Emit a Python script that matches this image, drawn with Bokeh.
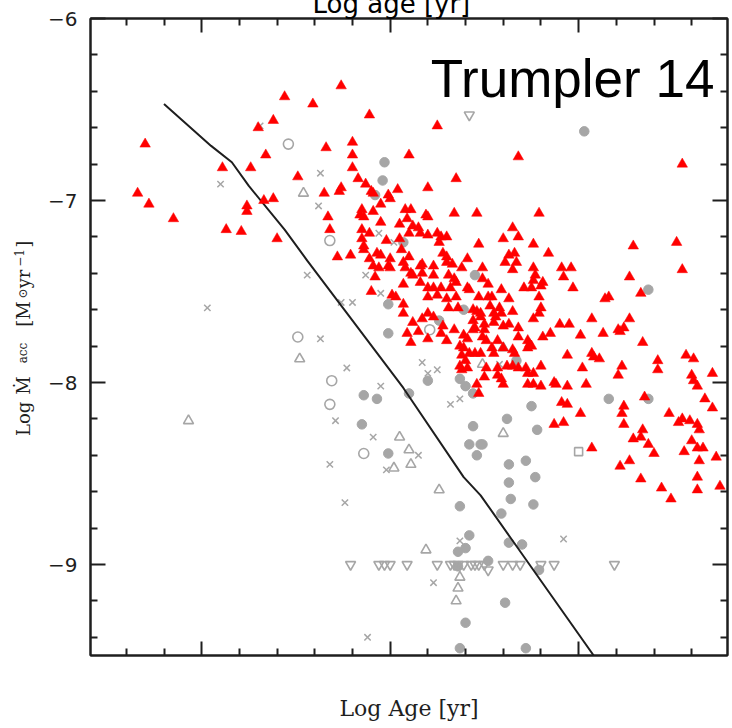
from bokeh.plotting import figure
from bokeh.models import LinearAxis, FixedTicker, Label, Range1d
from bokeh.embed import file_html
from bokeh.resources import INLINE

# ---------------- data ----------------
x_major = [5, 6, 7]
x_minor = [4.6, 4.8, 5.2, 5.4, 5.6, 5.8, 6.2, 6.4, 6.6, 6.8, 7.2, 7.4, 7.6]
y_major = [-9, -8, -7, -6]
y_minor = [-9.4, -9.2, -8.8, -8.6, -8.4, -8.2, -7.8, -7.6, -7.4, -7.2, -6.8, -6.6, -6.4, -6.2]
y_labels = {-6: "\u22126", -7: "\u22127", -8: "\u22128", -9: "\u22129"}

# accreting stars (red filled triangles)
red_upper = [(4.70, -6.69), (5.11, -6.82), (5.26, -6.82), (5.30, -6.60), (5.34, -6.75), (5.38, -6.56),
             (5.44, -6.43), (5.51, -6.87), (5.59, -6.47), (5.66, -6.71), (5.74, -6.37), (5.80, -6.68),
             (5.80, -6.75), (5.80, -6.82), (5.83, -6.88), (5.89, -6.53), (6.10, -6.75), (6.25, -6.59),
             (6.35, -6.88), (6.68, -6.76), (7.55, -6.80),
             (4.66, -6.96), (4.72, -7.02), (4.85, -7.10), (5.13, -7.16), (5.21, -7.17), (5.24, -7.03),
             (5.24, -7.06), (5.33, -7.00), (5.38, -6.99), (5.40, -7.21)]
red_core = [(5.65, -6.96), (5.74, -6.93), (5.73, -6.95), (5.87, -6.91), (5.90, -6.95), (5.91, -6.96),
            (5.99, -6.97), (6.00, -6.99), (6.04, -6.94), (6.20, -6.93), (5.95, -7.02), (5.85, -7.05),
            (5.91, -7.06), (6.08, -7.05), (6.11, -7.05), (6.19, -7.08), (6.20, -7.09), (6.34, -7.07),
            (5.67, -7.09), (5.84, -7.08), (5.86, -7.09), (6.09, -7.10), (5.95, -7.12), (6.05, -7.13),
            (6.12, -7.14), (6.15, -7.15), (5.68, -7.16), (5.85, -7.16), (5.89, -7.18), (6.10, -7.18),
            (6.16, -7.18), (6.20, -7.19), (6.25, -7.18), (6.27, -7.20), (6.30, -7.20), (5.85, -7.21),
            (5.98, -7.22), (6.05, -7.21), (6.26, -7.23), (5.86, -7.25), (5.86, -7.27), (5.72, -7.31),
            (5.79, -7.30), (5.93, -7.29), (5.95, -7.30), (6.06, -7.27), (6.10, -7.31), (6.28, -7.29),
            (6.30, -7.31), (5.89, -7.32), (6.00, -7.32), (6.07, -7.34), (6.17, -7.35), (6.30, -7.34),
            (6.33, -7.35), (5.91, -7.36), (5.94, -7.37), (5.99, -7.36), (6.00, -7.37), (6.08, -7.37),
            (6.16, -7.36), (6.23, -7.36), (5.92, -7.42), (6.12, -7.41), (6.11, -7.40), (6.17, -7.40),
            (6.23, -7.41), (6.31, -7.41), (6.34, -7.43)]
red_mid = [(6.46, -7.07), (6.79, -7.07), (6.65, -7.15), (6.60, -7.21), (6.68, -7.20), (6.47, -7.24),
           (6.76, -7.24), (6.84, -7.29), (6.41, -7.32), (6.63, -7.30), (6.66, -7.29), (6.61, -7.34),
           (6.67, -7.34), (6.65, -7.38), (6.38, -7.37), (6.49, -7.37), (6.76, -7.37), (6.91, -7.37),
           (6.96, -7.37), (6.49, -7.43), (6.77, -7.41), (6.92, -7.42), (6.52, -7.46), (6.76, -7.44),
           (6.81, -7.45), (6.80, -7.47), (6.75, -7.48), (6.71, -7.48), (6.97, -7.48), (6.41, -7.48),
           (6.42, -7.49), (6.59, -7.49), (6.47, -7.53), (6.52, -7.53), (6.54, -7.53), (6.79, -7.53),
           (6.63, -7.54), (7.14, -7.54), (7.16, -7.53), (6.53, -7.58), (6.58, -7.59), (6.80, -7.59),
           (6.44, -7.60), (6.46, -7.61), (6.48, -7.62), (6.55, -7.62), (6.59, -7.62), (6.65, -7.61),
           (6.79, -7.62), (6.48, -7.64), (6.56, -7.64), (6.76, -7.65), (7.07, -7.65), (6.44, -7.66),
           (6.50, -7.68), (6.55, -7.67), (6.60, -7.69), (6.63, -7.68), (6.90, -7.68), (6.95, -7.68),
           (6.45, -7.70), (6.68, -7.70)]
red_low = [(5.90, -7.50), (6.01, -7.52), (6.03, -7.53), (6.07, -7.57), (6.07, -7.62), (6.12, -7.67),
           (6.17, -7.65), (6.20, -7.62), (6.23, -7.64), (6.09, -7.73), (6.15, -7.72), (6.11, -7.78),
           (6.20, -7.76), (6.27, -7.73), (6.28, -7.69), (6.30, -7.77), (6.34, -7.71),
           (6.07, -7.46), (6.16, -7.45), (6.20, -7.48), (6.23, -7.48), (6.27, -7.48), (6.32, -7.48),
           (6.35, -7.45), (6.20, -7.53), (6.25, -7.52), (6.30, -7.54), (6.35, -7.53), (6.31, -7.59),
           (6.36, -7.59),
           (6.39, -7.74), (6.44, -7.71), (6.50, -7.71), (6.49, -7.75), (6.51, -7.77), (6.41, -7.76),
           (6.37, -7.80), (6.39, -7.81), (6.38, -7.85), (6.42, -7.84), (6.45, -7.84), (6.48, -7.84),
           (6.54, -7.81), (6.57, -7.77), (6.55, -7.84), (6.60, -7.81), (6.62, -7.91), (6.57, -7.92),
           (6.40, -7.88), (6.37, -7.91), (6.41, -7.92), (6.51, -7.92), (6.38, -7.93), (6.50, -7.97),
           (6.57, -7.96), (6.59, -7.98), (6.46, -8.01), (6.47, -8.06), (6.60, -8.01)]
red_right = [(7.29, -7.25), (7.52, -7.23), (7.55, -7.38), (7.27, -7.42), (7.33, -7.51), (7.27, -7.65),
             (7.24, -7.70), (7.21, -7.71), (7.22, -7.72), (7.13, -7.73), (7.01, -7.74), (6.81, -7.75),
             (6.85, -7.73), (6.68, -7.75), (6.73, -7.77), (6.75, -7.80), (6.65, -7.82), (6.66, -7.84),
             (6.73, -7.81), (6.74, -7.79), (6.94, -7.85), (7.07, -7.84), (7.08, -7.86), (7.11, -7.87),
             (7.34, -7.78), (7.57, -7.85), (7.61, -7.87), (7.42, -7.88), (7.42, -7.93), (7.23, -7.91),
             (7.21, -7.96), (7.02, -7.92), (6.80, -7.91), (6.65, -7.91), (6.68, -7.92), (6.72, -7.92),
             (6.73, -7.95), (6.76, -7.95), (6.76, -8.01), (6.73, -8.01), (6.80, -8.02), (6.87, -8.00),
             (6.88, -8.01), (6.94, -8.02), (7.04, -8.01), (7.60, -7.96), (7.61, -7.99), (7.63, -8.02),
             (7.71, -7.95), (7.67, -8.09), (7.71, -8.14), (6.91, -8.11), (6.94, -8.12), (7.01, -8.17),
             (7.24, -8.13), (7.23, -8.17), (7.24, -8.23), (7.35, -8.08), (6.87, -8.23), (6.92, -8.22),
             (7.48, -8.17), (7.53, -8.22), (7.55, -8.20), (7.59, -8.21), (7.63, -8.23), (7.64, -8.26),
             (7.34, -8.26), (7.29, -8.31), (7.33, -8.30), (7.37, -8.34), (7.40, -8.39), (7.60, -8.32),
             (7.63, -8.36), (7.66, -8.36), (7.56, -8.38), (7.64, -8.43), (7.73, -8.41), (7.07, -8.36),
             (7.27, -8.43), (7.22, -8.46), (7.63, -8.52), (7.33, -8.53), (7.44, -8.58), (7.49, -8.64),
             (7.63, -8.59), (7.75, -8.57)]

# other samples (grey symbols)
grey_dots = [(7.03, -6.62), (5.97, -6.79), (5.96, -6.89), (5.92, -6.97), (6.07, -7.23), (6.45, -7.41),
             (5.99, -7.57), (6.39, -7.60), (6.26, -7.66), (5.99, -7.73), (7.37, -7.49), (5.86, -8.07),
             (5.93, -8.09), (5.85, -8.23), (5.99, -8.39), (6.10, -8.06), (6.20, -7.99), (6.37, -7.98),
             (6.40, -8.02), (6.44, -8.06), (6.44, -8.24), (6.42, -8.34), (6.48, -8.34), (6.46, -8.40),
             (7.16, -8.09), (7.37, -8.09), (6.75, -8.13), (6.62, -8.20), (6.78, -8.26), (6.49, -8.34),
             (6.63, -8.45), (6.72, -8.43), (6.77, -8.52), (6.63, -8.55), (6.64, -8.64), (6.76, -8.67),
             (6.59, -8.72), (6.63, -8.88), (6.70, -8.89), (6.52, -8.98), (6.79, -9.03), (6.61, -9.21),
             (6.72, -9.46), (6.37, -8.68), (6.42, -8.84), (6.40, -8.91), (6.36, -8.93), (6.36, -9.01),
             (6.40, -9.32), (6.37, -9.46), (6.67, -7.88)]
grey_rings = [(5.46, -6.69), (5.68, -7.22), (5.51, -7.75), (5.69, -7.99), (5.68, -8.12), (5.86, -8.39),
              (6.21, -7.71)]
grey_cross = [(5.10, -6.91), (5.03, -7.59), (5.63, -6.85), (5.62, -7.03), (5.31, -6.59), (5.56, -7.41),
              (5.74, -7.56), (5.80, -7.56), (5.87, -7.41), (5.95, -7.51), (5.63, -7.76), (5.77, -7.92),
              (5.95, -8.02), (5.71, -8.21), (5.91, -8.30), (6.15, -8.40), (5.68, -8.45), (5.98, -8.48),
              (6.17, -7.89), (6.20, -7.95), (6.25, -7.93), (6.32, -8.12), (6.37, -8.09), (6.02, -7.23),
              (5.94, -7.18), (6.58, -7.90), (5.76, -8.66), (6.37, -8.87), (6.23, -9.10), (5.88, -9.40),
              (6.92, -8.86)]
grey_tri_up = [(4.93, -8.21), (5.54, -6.96), (5.52, -7.87), (6.05, -8.30), (6.10, -8.37), (6.11, -8.45),
               (6.02, -8.47), (6.49, -7.90), (6.60, -7.81), (6.60, -8.28), (6.26, -8.59), (6.19, -8.92),
               (6.37, -9.07), (6.36, -9.13), (6.35, -9.20)]
grey_tri_down = [(5.79, -9.0), (5.94, -9.0), (5.97, -9.0), (6.00, -9.0), (6.09, -9.0), (6.25, -9.0),
                 (6.32, -9.0), (6.34, -9.0), (6.36, -9.0), (6.39, -9.0), (6.43, -9.0), (6.45, -9.0),
                 (6.47, -9.0), (6.50, -9.0), (6.52, -9.03), (6.60, -9.0), (6.65, -9.0), (6.69, -9.0),
                 (6.80, -9.0), (6.87, -9.0), (7.19, -9.0), (6.42, -6.53)]
grey_square = [(7.00, -8.38)]

# model line
curve_x = [4.80, 5.05, 5.16, 5.25, 5.44, 5.56, 6.07, 6.39, 6.48, 7.08]
curve_y = [-6.47, -6.70, -6.79, -6.92, -7.16, -7.33, -8.03, -8.52, -8.62, -9.50]

# y-axis title pieces, placed at their positions along the axis
ylab_main = {-8.200: "Log", -8.017: "\u1e40", -7.624: "[M", -7.431: "yr", -7.240: "]"}
ylab_sub = {-7.838: "acc", -7.511: "\u2299"}
ylab_sup = {-7.316: "\u22121"}

# ---------------- figure ----------------
GREY = "#a6a6a6"
INK = "#1e1e1e"

# the canvas is 14px taller than the window and lifted by 14px, so the top title is cut
# by the page edge exactly as in the original
p = figure(width=732, height=742, x_range=Range1d(4.41, 7.79), y_range=Range1d(-9.5, -6.0),
           output_backend="svg", toolbar_location=None,
           min_border_left=90, min_border_right=5, min_border_top=32, min_border_bottom=73)
p.styles = {"margin-top": "-14px"}
p.grid.visible = False
p.outline_line_color = INK
p.outline_line_width = 2
p.background_fill_color = "white"
p.border_fill_color = "white"

p.title.text = "Log age [yr]"
p.title.text_font = "DejaVu Sans"
p.title.text_font_size = "26px"
p.title.text_font_style = "normal"
p.title.text_color = "black"
p.title.align = "left"
p.title.offset = 222
p.title.standoff = 0


def style_axis(ax, ticks, minors, tick_len):
    ax.ticker = FixedTicker(ticks=ticks, minor_ticks=minors)
    ax.major_tick_in = tick_len
    ax.major_tick_out = 0
    ax.minor_tick_in = 7
    ax.minor_tick_out = 0
    ax.axis_line_color = INK
    ax.axis_line_width = 2
    ax.major_tick_line_color = INK
    ax.minor_tick_line_color = INK
    ax.major_tick_line_width = 2
    ax.minor_tick_line_width = 2


xb = p.xaxis[0]
style_axis(xb, x_major, x_minor, 14)
xb.major_label_overrides = {t: "" for t in x_major}
xb.major_label_text_font_size = "1px"
xb.major_label_standoff = 0
xb.axis_label = "Log Age [yr]"
xb.axis_label_text_font = "DejaVu Serif"
xb.axis_label_text_font_size = "22px"
xb.axis_label_text_font_style = "normal"
xb.axis_label_text_color = INK
xb.axis_label_standoff = 40

yl = p.yaxis[0]
style_axis(yl, y_major, y_minor, 15)
yl.major_label_overrides = y_labels
yl.major_label_text_font = "DejaVu Sans"
yl.major_label_text_font_size = "20px"
yl.major_label_text_color = INK
yl.major_label_standoff = 13

xt = LinearAxis()
style_axis(xt, x_major, x_minor, 14)
xt.major_label_overrides = {t: "" for t in x_major}
xt.major_label_text_font_size = "1px"
xt.major_label_standoff = 0
p.add_layout(xt, "above")

yr = LinearAxis()
style_axis(yr, y_major, y_minor, 15)
yr.major_label_overrides = {t: "" for t in y_major}
yr.major_label_text_font_size = "1px"
yr.major_label_standoff = 0
p.add_layout(yr, "right")


def text_axis(pieces, size, standoff):
    ax = LinearAxis(ticker=FixedTicker(ticks=list(pieces.keys()), minor_ticks=[]))
    ax.major_label_overrides = pieces
    ax.major_label_orientation = "parallel"
    ax.major_label_text_font = "DejaVu Serif"
    ax.major_label_text_font_size = size
    ax.major_label_text_color = INK
    ax.major_label_standoff = standoff
    ax.axis_line_color = None
    ax.major_tick_line_color = None
    ax.minor_tick_line_color = None
    ax.major_tick_in = 0
    ax.major_tick_out = 0
    ax.minor_tick_in = 0
    ax.minor_tick_out = 0
    p.add_layout(ax, "left")


text_axis(ylab_sub, "12px", 15)
text_axis(ylab_main, "18px", -21)
text_axis(ylab_sup, "12px", -14)


def xs(pts):
    return [a for a, b in pts]


def ys(pts):
    return [b for a, b in pts]


p.scatter(xs(grey_dots), ys(grey_dots), marker="circle", size=9.5, fill_color=GREY, line_color=GREY)
p.scatter(xs(grey_rings), ys(grey_rings), marker="circle", size=10, fill_color=None, line_color=GREY, line_width=1.6)
p.scatter(xs(grey_cross), ys(grey_cross), marker="x", size=9, line_color=GREY, line_width=1.5)
p.scatter(xs(grey_tri_up), ys(grey_tri_up), marker="triangle", size=10, fill_color=None, line_color=GREY, line_width=1.6)
p.scatter(xs(grey_tri_down), ys(grey_tri_down), marker="inverted_triangle", size=10, fill_color=None, line_color=GREY, line_width=1.6)
p.scatter(xs(grey_square), ys(grey_square), marker="square", size=8, fill_color=None, line_color=GREY, line_width=1.6)

p.line(curve_x, curve_y, line_color=INK, line_width=2)

red = red_upper + red_core + red_mid + red_low + red_right
p.scatter(xs(red), ys(red), marker="triangle", size=10.5, fill_color="#ff0000", line_color="#ff0000", line_width=0.5)

p.add_layout(Label(x=6.215, y=-6.33, text="Trumpler 14",
                   text_font="Liberation Sans", text_font_size="53px", text_color="black",
                   text_align="left", text_baseline="alphabetic"))

open("out.html", "w").write(file_html(p, INLINE))
